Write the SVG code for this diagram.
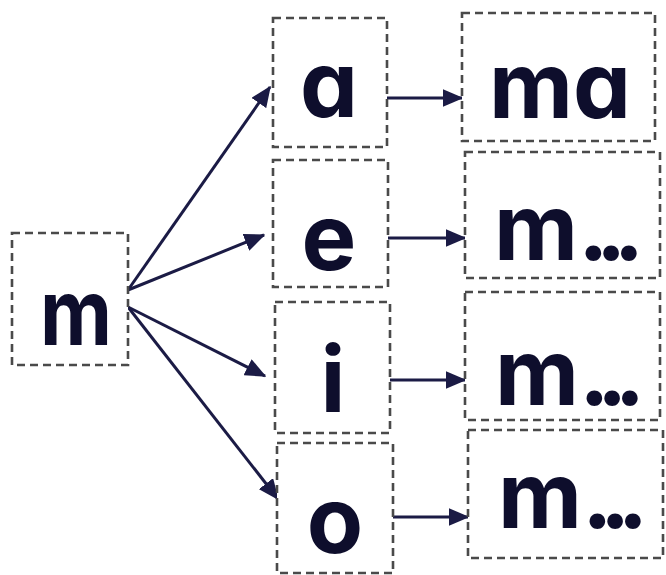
<svg xmlns="http://www.w3.org/2000/svg" width="666" height="575" viewBox="0 0 666 575">
<defs>
<style>
.box{fill:#fff;stroke:#4a4a4a;stroke-width:2.6;stroke-dasharray:8 5}
.t{font-family:Inter,"Noto Sans","Liberation Sans",sans-serif;font-weight:700;font-size:92px;fill:#0e0e2c;text-anchor:middle;font-feature-settings:"cv11" 1}
.s{text-anchor:start}
.d{letter-spacing:-13px}
.c{stroke:#1b1b45;stroke-width:3;fill:none;marker-end:url(#ah)}
</style>
<marker id="ah" markerWidth="7" markerHeight="6" refX="6.5" refY="3" orient="auto" markerUnits="strokeWidth">
<path d="M0,0 L7,3 L0,6 Z" fill="#1b1b45"/>
</marker>
</defs>
<rect width="666" height="575" fill="#fff"/>
<g id="connectors">
<line class="c" x1="128" y1="290" x2="270" y2="87"/>
<line class="c" x1="128" y1="290" x2="264" y2="235"/>
<line class="c" x1="128" y1="307" x2="265" y2="376"/>
<line class="c" x1="128" y1="307" x2="278" y2="499"/>
<line class="c" x1="387" y1="98" x2="462" y2="98"/>
<line class="c" x1="388" y1="238" x2="465" y2="238"/>
<line class="c" x1="390" y1="380" x2="465" y2="380"/>
<line class="c" x1="393" y1="517" x2="468" y2="517"/>
</g>
<g id="node-m"><rect class="box" x="12" y="233" width="116" height="132"/><text class="t" x="76" y="345" textLength="72" lengthAdjust="spacingAndGlyphs">m</text></g>
<g id="node-a"><rect class="box" x="273" y="18" width="114" height="129"/><text class="t" x="329" y="117">a</text></g>
<g id="node-e"><rect class="box" x="273" y="160" width="115" height="127"/><text class="t" x="329" y="270">e</text></g>
<g id="node-i"><rect class="box" x="275" y="302" width="115" height="131"/><text class="t" x="333" y="412">i</text></g>
<g id="node-o"><rect class="box" x="277" y="443" width="116" height="130"/><text class="t" x="335" y="553">o</text></g>
<g id="node-ma"><rect class="box" x="462" y="13" width="193" height="128"/><text class="t" x="560" y="118">ma</text></g>
<g id="node-me"><rect class="box" x="465" y="152" width="195" height="126"/><text class="t s" x="494" y="260">m<tspan class="d">...</tspan></text></g>
<g id="node-mi"><rect class="box" x="465" y="292" width="195" height="128"/><text class="t s" x="495" y="405">m<tspan class="d">...</tspan></text></g>
<g id="node-mo"><rect class="box" x="468" y="430" width="195" height="128"/><text class="t s" x="498" y="528">m<tspan class="d">...</tspan></text></g>
</svg>
